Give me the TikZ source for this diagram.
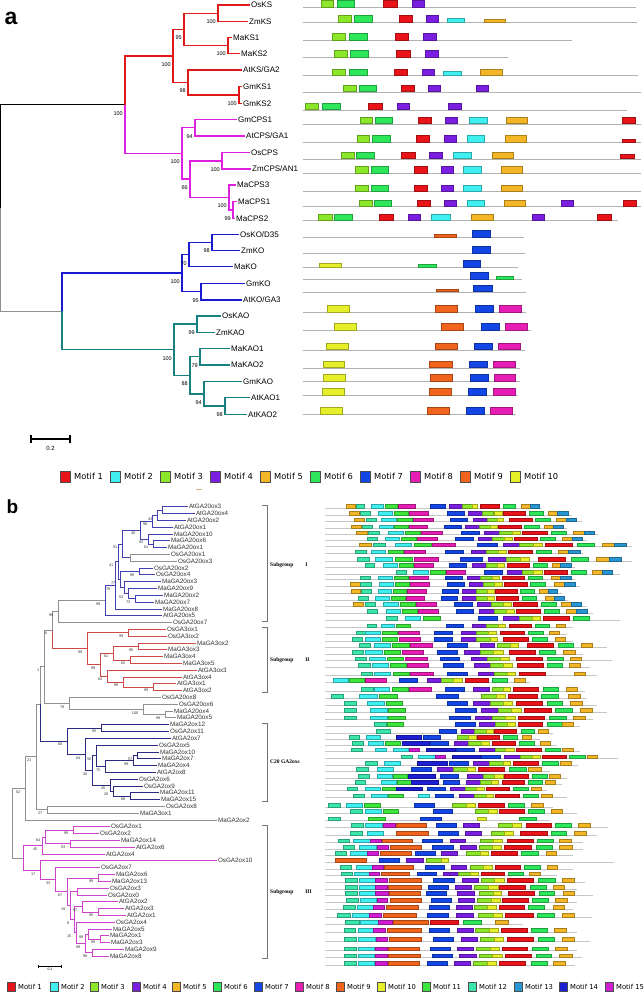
\documentclass[tikz,border=0pt]{standalone}
\usepackage{fontspec}
\setmainfont{Liberation Sans}
\newfontfamily\legfont{DejaVu Sans}
\newfontfamily\grpfont{Liberation Serif}
\usetikzlibrary{positioning,calc}

\definecolor{mot1}{HTML}{E8141A}
\definecolor{mot2}{HTML}{40F0F0}
\definecolor{mot3}{HTML}{8CE62A}
\definecolor{mot4}{HTML}{7A1EE0}
\definecolor{mot5}{HTML}{F2B626}
\definecolor{mot6}{HTML}{2EE65A}
\definecolor{mot7}{HTML}{1446E6}
\definecolor{mot8}{HTML}{E61EB4}
\definecolor{mot9}{HTML}{F0641E}
\definecolor{mot10}{HTML}{E6F02A}
\definecolor{mot11}{HTML}{3CE63C}
\definecolor{mot12}{HTML}{3CE6AA}
\definecolor{mot13}{HTML}{2896D2}
\definecolor{mot14}{HTML}{1E1ED2}
\definecolor{mot15}{HTML}{D21ED2}
\definecolor{ksred}{HTML}{E01818}
\definecolor{cpsmag}{HTML}{E020E0}
\definecolor{koblue}{HTML}{1A1AD0}
\definecolor{kaoteal}{HTML}{178080}
\definecolor{sgone}{HTML}{4040B0}
\definecolor{sgtwo}{HTML}{D04848}
\definecolor{cnavy}{HTML}{2A2A80}
\definecolor{sgthree}{HTML}{CC44CC}
\definecolor{brgrey}{HTML}{909090}

% internal tree node: name, x, first child, last child
\newcommand\inode[4]{\coordinate (#1m) at ($(#3)!.5!(#4)$);\coordinate (#1) at (#1m-|#2,0);}

\tikzset{
  leafa/.style={anchor=west, inner sep=1pt, font=\fontsize{8}{8}\selectfont},
  boota/.style={anchor=east, inner sep=0pt, font=\fontsize{5.5}{5.5}\selectfont},
  leafb/.style={anchor=west, inner sep=0.8pt, text=black!80, font=\fontsize{6.3}{6.3}\selectfont},
  bootb/.style={anchor=east, inner sep=0pt, text=black!80, font=\fontsize{3.8}{3.8}\selectfont},
  tra/.style={line width=1.4pt},
  trb/.style={line width=0.7pt},
  rowa/.style={draw=black!30, line width=0.9pt},
  rowb/.style={draw=black!22, line width=0.6pt},
  motbox/.style={line width=0.3pt},
  brk/.style={draw=black!55, line width=0.6pt},
  sglab/.style={anchor=west, inner sep=0pt, font=\grpfont\bfseries\fontsize{5.5}{5.5}\selectfont},
  leglab/.style={anchor=west, inner sep=0pt, font=\legfont\fontsize{8.3}{8.3}\selectfont},
  leglabb/.style={anchor=west, inner sep=0pt, font=\legfont\fontsize{6.8}{6.8}\selectfont}
}

\begin{document}
\begin{tikzpicture}[x=1pt,y=-1pt]
\useasboundingbox (0,0) rectangle (643,992);
\fill[white] (0,0) rectangle (643,992);

%%% panel a
\node[font=\fontsize{23}{23}\selectfont\bfseries] (pa) at (11,18) {a};

\node[leafa] (OsKS) at (250,5) {OsKS};
\node[leafa] (ZmKS) at (248,21.7) {ZmKS};
\node[leafa] (MaKS1) at (232,37.7) {MaKS1};
\node[leafa] (MaKS2) at (240,53.3) {MaKS2};
\node[leafa] (AtKS) at (242,70) {AtKS/GA2};
\node[leafa] (GmKS1) at (242,86.7) {GmKS1};
\node[leafa] (GmKS2) at (242,103.3) {GmKS2};
\node[leafa] (GmCPS1) at (237,119.3) {GmCPS1};
\node[leafa] (AtCPS) at (245,136) {AtCPS/GA1};
\node[leafa] (OsCPS) at (250,152.7) {OsCPS};
\node[leafa] (ZmCPS) at (251,169) {ZmCPS/AN1};
\node[leafa] (MaCPS3) at (236,185) {MaCPS3};
\node[leafa] (MaCPS1) at (237,201.7) {MaCPS1};
\node[leafa] (MaCPS2) at (235,218.3) {MaCPS2};
\node[leafa] (OsKO) at (239,234.5) {OsKO/D35};
\node[leafa] (ZmKO) at (240,250.7) {ZmKO};
\node[leafa] (MaKO) at (233,266.7) {MaKO};
\node[leafa] (GmKO) at (245,283.3) {GmKO};
\node[leafa] (AtKO) at (242,300) {AtKO/GA3};
\node[leafa] (OsKAO) at (221,316) {OsKAO};
\node[leafa] (ZmKAO) at (215,332.3) {ZmKAO};
\node[leafa] (MaKAO1) at (230,348.3) {MaKAO1};
\node[leafa] (MaKAO2) at (230,365) {MaKAO2};
\node[leafa] (GmKAO) at (242,381.7) {GmKAO};
\node[leafa] (AtKAO1) at (250,397.7) {AtKAO1};
\node[leafa] (AtKAO2) at (247,414.3) {AtKAO2};

\inode{nA}{218}{OsKS}{ZmKS}
\inode{nB}{228}{MaKS1}{MaKS2}
\inode{nC}{184}{nA}{nB}
\inode{nD}{239}{GmKS1}{GmKS2}
\inode{nE}{188}{AtKS}{nD}
\inode{nF}{173}{nC}{nE}
\inode{nG}{195}{GmCPS1}{AtCPS}
\inode{nH}{222}{OsCPS}{ZmCPS}
\inode{nI}{233}{MaCPS1}{MaCPS2}
\inode{nJ}{229}{MaCPS3}{nI}
\inode{nK}{190}{nH}{nJ}
\inode{nL}{182}{nG}{nK}
\inode{nM}{125}{nF}{nL}
\inode{nN}{212}{OsKO}{ZmKO}
\inode{nO}{189}{nN}{MaKO}
\inode{nP}{201}{GmKO}{AtKO}
\inode{nQ}{182}{nO}{nP}
\inode{nR}{197}{OsKAO}{ZmKAO}
\inode{nS}{200}{MaKAO1}{MaKAO2}
\inode{nT}{225}{AtKAO1}{AtKAO2}
\inode{nU}{204}{GmKAO}{nT}
\inode{nV}{190}{nS}{nU}
\inode{nW}{174}{nR}{nV}
\inode{nX}{62}{nQ}{nW}
\inode{nRoot}{0.7}{nM}{nX}

\draw[tra] (nRoot) |- (nM);
\draw[tra, brgrey] (nRoot) |- (nX);
\foreach \p/\c in {nM/nF, nF/nC, nF/nE, nC/nA, nC/nB, nA/OsKS.west, nA/ZmKS.west, nB/MaKS1.west, nB/MaKS2.west, nE/AtKS.west, nE/nD, nD/GmKS1.west, nD/GmKS2.west}
  \draw[tra, ksred] (\p) |- (\c);
\foreach \p/\c in {nM/nL, nL/nG, nL/nK, nG/GmCPS1.west, nG/AtCPS.west, nK/nH, nK/nJ, nH/OsCPS.west, nH/ZmCPS.west, nJ/MaCPS3.west, nJ/nI, nI/MaCPS1.west, nI/MaCPS2.west}
  \draw[tra, cpsmag] (\p) |- (\c);
\foreach \p/\c in {nX/nQ, nQ/nO, nQ/nP, nO/nN, nO/MaKO.west, nN/OsKO.west, nN/ZmKO.west, nP/GmKO.west, nP/AtKO.west}
  \draw[tra, koblue] (\p) |- (\c);
\foreach \p/\c in {nX/nW, nW/nR, nW/nV, nR/OsKAO.west, nR/ZmKAO.west, nV/nS, nV/nU, nS/MaKAO1.west, nS/MaKAO2.west, nU/GmKAO.west, nU/nT, nT/AtKAO1.west, nT/AtKAO2.west}
  \draw[tra, kaoteal] (\p) |- (\c);

\foreach \n/\v in {nA/100, nB/100, nC/95, nD/100, nE/98, nF/100, nG/94, nH/100, nI/99, nJ/100, nK/66, nL/100, nM/100, nN/98, nO/70, nP/95, nQ/100, nR/99, nS/79, nT/98, nU/94, nV/88, nW/100}
  \node[boota] (bs\n) at ([shift={(-2,8.5)}]\n) {\v};

\draw[line width=1.6pt] (31,439) -- (70,439);
\draw[line width=1.6pt] (31,435) -- (31,443) (70,435) -- (70,443);
\node[font=\fontsize{6}{6}\selectfont, inner sep=0pt] (scalea) at (50.5,448) {0.2};

\begin{scope}[shift={(300,0)}, x=0.3333pt]
\foreach \yy/\ee/\bx in {
 7.3/1008/{3/62/100/7,6/112/163/7,1/250/290/7,4/336/373/7},
 22.3/1010/{3/115/152/7,6/163/215/7,1/296/335/7,4/378/415/7,2/442/493/4,5/551/615/3.5},
 40.3/815/{3/96/134/7,6/147/200/7,1/284/325/7,4/370/408/7},
 57.3/625/{3/102/140/7,6/150/205/7,1/288/330/7,4/375/413/7},
 75.7/1015/{3/96/134/7,6/147/200/7,1/282/322/7,4/366/403/7,2/430/482/5,5/540/605/7},
 92/1022/{3/130/167/7,6/177/227/7,1/304/342/7,4/383/420/7,4/527/563/7},
 110/980/{3/16/55/7,6/66/120/7,1/204/246/7,4/291/328/7,4/444/482/7},
 124/1022/{3/180/216/7,6/224/275/7,1/354/393/7,4/434/470/7,2/508/560/7,5/618/680/7,1/966/1005/7},
 142.3/1022/{3/170/208/7,6/216/269/7,1/348/388/7,4/431/468/7,2/500/553/7,5/614/679/7,1/967/1007/3},
 159/1022/{3/124/161/7,6/169/222/7,1/304/345/7,4/388/427/7,2/459/512/7,5/575/640/7,1/962/1002/5},
 173.3/1022/{3/166/203/7,6/212/263/7,1/343/381/7,4/423/460/7,2/490/542/7,5/603/665/7},
 191.7/1022/{3/166/203/7,6/212/263/7,1/343/381/7,4/423/460/7,2/490/542/7,5/603/665/7},
 206.7/1022/{3/177/215/7,6/222/273/7,1/351/390/7,4/432/469/7,2/501/552/7,5/612/674/7,4/784/820/7,1/969/1008/7},
 220.7/955/{3/55/95/7,6/102/155/7,1/237/278/7,4/323/360/7,2/394/449/7,5/513/580/7,4/695/734/7,1/893/933/7},
 237.5/672/{9/403/468/3,7/517/570/7},
 253.3/675/{7/517/571/7},
 267.3/655/{10/58/124/4,6/355/408/3,7/489/541/7},
 279.3/665/{7/510/565/7,6/587/640/3},
 292/677/{9/407/473/3,7/520/575/7},
 312.3/677/{10/82/148/7,9/406/472/7,7/525/578/7,8/597/663/7},
 330.3/692/{10/103/169/7,9/424/490/7,7/543/597/7,8/616/681/7},
 350/675/{10/79/145/7,9/404/470/7,7/523/577/7,8/595/661/7},
 368/660/{10/69/133/7,9/388/455/7,7/508/560/7,8/579/645/7},
 381.3/660/{10/70/136/7,9/390/457/7,7/509/563/7,8/581/645/7},
 395.3/653/{10/66/131/7,9/387/452/7,7/505/559/7,8/578/644/7},
 414.3/648/{10/61/127/7,9/381/447/7,7/499/552/7,8/571/637/7}} {
  \draw[rowa] (8,\yy) -- (\ee,\yy);
  \foreach \mc/\xa/\xb/\hh in \bx
    \filldraw[motbox, fill=mot\mc, draw=mot\mc!70!black] (\xa,\yy-\hh) rectangle (\xb,\yy-0.4);
}
\end{scope}

\foreach \k [count=\j from 0] in {1,...,10} {
  \filldraw[motbox, fill=mot\k, draw=black!70] ({60+50*\j},471) rectangle ({70+50*\j},482);
  \node[leglab] (lega\k) at ({74+50*\j},476.5) {Motif \k};
}
\draw[draw=brown!60, line width=0.6pt] (196,489) -- (202,489);

%%% panel b
\node[font=\fontsize{19}{19}\selectfont\bfseries] (pb) at (12.5,506.7) {b};

\foreach \nm/\xx [count=\i] in {AtGA20ox3/188, AtGA20ox4/195, AtGA20ox2/186, AtGA20ox1/173, MaGA20ox10/173, MaGA20ox6/170, MaGA20ox1/167, OsGA20ox1/170, OsGA20ox3/177, OsGA20ox2/153, OsGA20ox4/155, MaGA20ox3/161, MaGA20ox9/157, MaGA20ox2/163, MaGA20ox7/154, MaGA20ox8/162, AtGA20ox5/162, OsGA20ox7/172, OsGA3ox1/166, OsGA3ox2/167, MaGA3ox2/196, MaGA3ox3/167, MaGA3ox4/163, MaGA3ox5/182, AtGA3ox3/197, AtGA3ox4/182, AtGA3ox1/176, AtGA3ox2/182, OsGA20ox8/161, OsGA20ox6/178, MaGA20ox4/173, MaGA20ox5/176, MaGA2ox12/169, OsGA2ox11/169, AtGA2ox7/171, OsGA2ox5/158, MaGA2ox10/159, MaGA2ox7/161, MaGA2ox4/157, AtGA2ox8/156, OsGA2ox6/138, OsGA2ox9/143, MaGA2ox11/159, MaGA2ox15/160, OsGA2ox8/165, MaGA3ox1/139, MaGA2ox2/217, OsGA2ox1/110, OsGA2ox2/99, MaGA2ox14/120, AtGA2ox6/135, AtGA2ox4/105, OsGA2ox10/217, OsGA2ox7/100, MaGA2ox6/115, MaGA2ox13/111, OsGA2ox3/109, OsGA2ox0/107, AtGA2ox2/118, AtGA2ox3/124, AtGA2ox1/126, OsGA2ox4/115, MaGA2ox5/112, MaGA2ox1/109, MaGA2ox3/110, MaGA2ox9/124, MaGA2ox8/109} {
  \node[leafb] (L\i) at (\xx,{506.7+6.81*(\i-1)}) {\nm};
  \coordinate (l\i) at (L\i.west);
}

\inode{b1}{162}{l1}{l2}
\inode{b2}{157}{b1}{l3}
\inode{b3}{152}{b2}{l4}
\inode{b4}{153}{l6}{l7}
\inode{b5}{148}{l5}{b4}
\inode{b6}{140}{b3}{b5}
\inode{b7}{130}{l8}{l9}
\inode{b8}{122}{b6}{b7}
\inode{b9}{139}{l10}{l11}
\inode{b11}{135}{l14}{l15}
\inode{b12}{128}{l13}{b11}
\inode{b13}{124}{l12}{b12}
\inode{b14}{120}{b9}{b13}
\inode{b15}{118}{b8}{b14}
\inode{b16}{115}{b15}{l16}
\inode{b17}{105}{b16}{l17}
\inode{b18}{58}{b17}{l18}
\inode{r1}{128}{l19}{l20}
\inode{r2}{138}{l21}{l22}
\inode{r3}{130}{l23}{l24}
\inode{r4}{113}{r2}{r3}
\inode{r5}{153}{l27}{l28}
\inode{r6}{123}{l26}{r5}
\inode{r7}{107}{l25}{r6}
\inode{r8}{100}{r4}{r7}
\inode{r9}{87}{r1}{r8}
\inode{k1}{52}{b18}{r9}
\inode{g1}{165}{l31}{l32}
\inode{g2}{143}{l30}{g1}
\inode{g3}{69}{l29}{g2}
\inode{k2}{44}{k1}{g3}
\inode{c1}{101}{l33}{l34}
\inode{c2}{137}{l37}{l38}
\inode{c3}{133}{c2}{l39}
\inode{c4}{105}{c3}{l40}
\inode{c5}{96}{l36}{c4}
\inode{c6}{130}{l43}{l44}
\inode{c7}{113}{l42}{c6}
\inode{c8}{110}{l41}{c7}
\inode{c9}{92}{c5}{c8}
\inode{c10}{85}{l35}{c9}
\inode{c11}{67}{c1}{c10}
\inode{k3}{40}{k2}{c11}
\inode{e1}{47}{l45}{l46}
\inode{k4}{36}{k3}{e1}
\inode{k5}{25}{k4}{l47}
\inode{m1}{73}{l48}{l49}
\inode{m2}{70}{l50}{l51}
\inode{m3}{45}{m1}{m2}
\inode{m4}{42}{m3}{l52}
\inode{n1}{98}{l55}{l56}
\inode{n2}{77}{l57}{l58}
\inode{n4}{98}{l60}{l61}
\inode{n5}{82}{l59}{n4}
\inode{n7}{100}{l64}{l65}
\inode{n8}{88}{l63}{n7}
\inode{n9}{92}{l66}{l67}
\inode{n10}{85}{n8}{n9}
\inode{q3}{76}{l62}{n10}
\inode{q2}{74}{n5}{q3}
\inode{q1}{70}{n2}{q2}
\inode{n12}{67}{n1}{q1}
\inode{n13}{55}{l54}{n12}
\inode{m5}{40}{l53}{n13}
\inode{m6}{23}{m4}{m5}
\inode{rootb}{12}{k5}{m6}

\foreach \p/\c in {b1/l1, b1/l2, b2/b1, b2/l3, b3/b2, b3/l4, b4/l6, b4/l7, b5/l5, b5/b4, b6/b3, b6/b5, b8/b6, b8/b7, b9/l10, b9/l11, b11/l14, b11/l15, b12/l13, b12/b11, b13/l12, b13/b12, b14/b9, b14/b13, b15/b8, b15/b14, b16/b15, b16/l16, b17/b16, b17/l17}
  \draw[trb, sgone] (\p) |- (\c);
\foreach \p/\c in {b7/l8, b7/l9, b18/b17, b18/l18, k1/b18, k2/k1, k2/g3, g3/l29, g3/g2, g2/l30, g2/g1, g1/l31, g1/l32, k3/k2, k4/k3, k4/e1, e1/l45, e1/l46, k5/k4, k5/l47, rootb/k5, rootb/m6}
  \draw[trb, brgrey] (\p) |- (\c);
\foreach \p/\c in {k1/r9, r9/r1, r9/r8, r1/l19, r1/l20, r8/r4, r8/r7, r4/r2, r4/r3, r2/l21, r2/l22, r3/l23, r3/l24, r7/l25, r7/r6, r6/l26, r6/r5, r5/l27, r5/l28}
  \draw[trb, sgtwo] (\p) |- (\c);
\foreach \p/\c in {k3/c11, c11/c1, c11/c10, c1/l33, c1/l34, c10/l35, c10/c9, c9/c5, c9/c8, c5/l36, c5/c4, c4/c3, c4/l40, c3/c2, c3/l39, c2/l37, c2/l38, c8/l41, c8/c7, c7/l42, c7/c6, c6/l43, c6/l44}
  \draw[trb, cnavy] (\p) |- (\c);
\foreach \p/\c in {m6/m4, m6/m5, m4/m3, m4/l52, m3/m1, m3/m2, m1/l48, m1/l49, m2/l50, m2/l51, m5/l53, m5/n13, n13/l54, n13/n12, n12/n1, n12/q1, n1/l55, n1/l56, q1/n2, q1/q2, n2/l57, n2/l58, q2/n5, q2/q3, n5/l59, n5/n4, n4/l60, n4/l61, q3/l62, q3/n10, n10/n8, n10/n9, n8/l63, n8/n7, n7/l64, n7/l65, n9/l66, n9/l67}
  \draw[trb, sgthree] (\p) |- (\c);

\foreach \n/\v in {b2/43, b3/98, b4/61, b5/92, b6/40, b8/51, b9/99, b11/73, b12/53, b14/77, b15/41, b16/78, b17/99, b18/99, r1/99, r2/95, r3/62, r4/61, r5/99, r6/99, r7/64, r8/99, r9/99, k1/6, g1/99, g2/100, g3/78, k2/1, c1/95, c2/57, c3/99, c4/75, c5/56, c6/88, c7/28, c8/45, c9/40, c10/64, c11/60, e1/27, k4/21, k5/52, m1/99, m2/53, m3/64, m4/45, n1/99, n4/95, n5/57, n7/99, n8/99, n9/98, n10/99, q3/15, q2/8, q1/19, n12/67, n13/33, m5/17}
  \node[bootb] (bs\n) at ([shift={(-4.5,3.5)}]\n) {\v};

\draw[line width=0.6pt] (38.3,966) -- (61.7,966);
\draw[line width=0.6pt] (38.3,964.5) -- (38.3,967.5) (61.7,964.5) -- (61.7,967.5);
\node[font=\fontsize{3.5}{3.5}\selectfont, inner sep=0pt] (scaleb) at (50,969.5) {0.1};

\draw[brk] (262,505) -- (267,505) -- (267,621.7) -- (262,621.7);
\draw[brk] (262,627.7) -- (267,627.7) -- (267,692.3) -- (262,692.3);
\draw[brk] (262,723.3) -- (267,723.3) -- (267,801.7) -- (262,801.7);
\draw[brk] (262,825) -- (267,825) -- (267,958.3) -- (262,958.3);
\node[sglab] (sgI) at (270,565) {Subgroup\hspace{12pt}I};
\node[sglab] (sgII) at (270,660.3) {Subgroup\hspace{12pt}II};
\node[sglab] (sgC) at (270,762) {C20 GA2oxs};
\node[sglab] (sgIII) at (270,891.7) {Subgroup\hspace{12pt}III};

\begin{scope}[shift={(310,0)}, x=0.3333pt]
\foreach \ty/\ee/\bx in {
 504.3/695/{5/108/134,12/138/163,2/183/220,11/225/260,8/263/314,7/360/405,4/418/455,3/455/485,10/485/502,1/510/568,6/578/614,5/634/660,13/660/686},
 511.3/785/{5/117/147,12/150/180,2/204/245,11/252/293,8/297/353,7/410/462,4/475/517,3/517/550,10/553/575,1/580/646,6/656/700,5/714/742,13/742/774},
 517.7/815/{5/133/163,12/168/199,2/213/258,11/262/306,8/310/368,7/420/472,4/488/530,3/530/560,10/560/580,1/598/665,6/676/720,5/740/768,13/768/800},
 524.7/770/{5/123/153,12/157/185,2/208/248,11/252/293,8/297/351,7/401/452,4/465/506,3/506/540,10/540/560,1/565/632,6/642/686,5/703/730,13/730/760},
 530.7/865/{5/137/170,12/173/208,2/233/278,11/284/330,8/333/396,7/453/508,4/523/568,3/568/605,10/605/630,1/637/711,6/723/768,5/790/822,13/822/853},
 536.7/830/{12/172/200,2/225/268,11/274/318,8/321/380,7/435/488,4/503/547,3/547/582,10/582/605,1/612/680,6/690/737,5/757/786,13/786/818},
 542.7/965/{5/147/183,12/188/226,2/255/302,11/312/362,8/367/436,7/500/560,4/578/627,3/627/670,10/670/697,1/706/787,6/802/853,5/877/912,13/912/948},
 549.7/820/{12/136/167,2/183/226,11/233/278,8/283/345,7/406/460,4/483/527,3/527/563,10/563/587,1/594/666,6/678/724,5/745/775,13/775/810},
 557.3/965/{12/140/177,2/195/247,11/256/306,8/311/385,7/451/516,4/535/587,3/587/630,10/630/658,1/683/767,6/783/835,5/860/898,13/898/935},
 563.3/795/{12/166/193,2/219/260,11/267/310,8/313/368,7/418/469,4/485/527,3/527/560,10/560/583,1/590/656,6/668/710,5/725/752,13/752/784},
 570/930/{12/258/288,2/310/354,11/360/404,8/408/466,7/523/577,4/591/636,3/636/670,10/670/695,1/701/772,6/784/828,5/846/878,13/878/907},
 575.7/795/{12/150/180,2/204/245,11/251/293,8/297/353,7/404/455,4/470/511,3/511/545,10/545/568,1/575/642,6/654/697,5/724/752,13/752/784},
 582/810/{5/120/150,12/150/182,2/207/248,11/254/296,8/300/357,7/412/463,4/476/518,3/518/552,10/552/575,1/583/650,6/661/706,5/733/762,13/762/795},
 589.3/755/{5/123/150,12/153/183,2/205/242,11/248/288,8/292/347,7/395/444,4/457/497,3/497/530,10/530/552,1/556/620,6/630/672,5/688/714,13/714/742},
 596.3/775/{12/145/173,2/196/236,11/244/284,8/289/343,7/393/442,4/456/497,3/497/530,10/530/552,1/558/623,6/636/677,5/705/733,13/733/764},
 602/830/{5/130/160,12/164/195,2/220/264,11/271/315,8/319/378,7/432/485,4/500/543,3/543/578,10/578/602,1/609/680,6/693/739,5/755/785,13/785/815},
 609.3/850/{12/170/201,2/228/271,11/276/320,8/325/385,7/437/490,4/507/552,3/552/588,10/588/611,1/618/690,6/702/747,5/768/800,13/800/833},
 616.3/930/{12/228/260,2/285/331,11/340/389,7/503/561,4/580/626,3/626/665,10/665/690,1/700/777,6/791/839},
 623.7/790/{12/170/199,2/212/251,11/258/299,7/409/460,4/486/527,3/527/563,10/563/585,1/596/663,6/676/718,5/738/767},
 630.7/770/{12/137/165,2/166/210,11/216/260,8/265/326,7/372/427,4/454/498,3/498/533,10/533/558,1/570/641,6/655/700,5/718/748},
 637.3/790/{12/125/157,2/166/209,11/216/260,8/266/329,7/372/427,4/454/497,3/497/540,10/540/560,1/580/654,6/667/712,5/735/767},
 643.3/890/{12/148/181,2/193/240,11/247/296,8/300/366,7/410/470,4/511/553,3/560/600,10/600/625,1/651/731,6/745/791,5/814/847},
 650/820/{12/127/160,2/166/215,11/222/270,8/275/338,7/382/440,4/461/510,3/510/548,10/548/578,1/597/674,6/688/737,5/760/795},
 656.7/905/{12/135/167,2/176/224,11/230/279,8/284/350,7/391/448,4/482/530,3/530/570,10/570/597,1/617/696,6/712/760,5/782/815},
 663.3/840/{12/144/180,2/185/233,11/239/288,8/291/355,7/399/460,4/492/540,3/540/580,10/580/606,1/622/698,6/711/758,5/778/810},
 671.7/860/{12/152/186,2/192/240,11/248/296,8/300/368,7/410/470,4/505/551,3/551/590,10/590/616,1/626/704,5/792/826},
 678.3/660/{2/70/114,11/118/163,8/166/228,7/268/320,4/350/393,3/393/430,10/430/455,1/464/534,6/547/590,5/613/646},
 687.3/825/{12/152/188,2/193/237,11/246/294,8/298/364,7/405/463,4/488/537,3/545/578,10/578/600,1/608/685,6/698/746,5/768/802},
 694/830/{12/63/100,2/148/200,11/207/260,7/378/443,3/513/558,10/558/585,1/593/680,6/693/746,5/775/812},
 701.3/860/{12/102/138,2/172/222,11/227/276,7/411/472,4/490/540,3/540/580,10/580/605,1/618/696,6/710/758,5/780/816},
 708.3/890/{12/102/137,2/181/231,11/235/285,7/435/497,4/512/563,3/563/603,10/603/632,1/642/722,6/736/786,5/812/847},
 715.7/850/{12/102/137,2/181/230,11/235/285,7/418/480,4/496/546,3/546/586,10/586/614,1/624/702,6/718/768,5/790/826},
 722/810/{12/193/228,11/230/278,7/436/494,4/508/554,3/554/592,10/592/616,1/623/697,6/710/757,5/757/790},
 729/730/{12/198/240,7/388/438,4/452/492,3/492/527,10/527/548,1/553/619,6/634/672,5/685/713},
 735/690/{12/117/146,2/168/209,14/258/333,7/338/390,3/441/474,10/474/497,1/502/568,6/578/620,5/636/664},
 741/740/{12/127/158,2/175/218,11/225/270,14/275/357,7/359/414,4/431/474,3/474/512,10/512/537,1/545/614,6/627/672,5/690/720},
 747.7/810/{12/123/155,2/195/228,2/248/294,15/297/327,14/349/434,7/438/493,4/508/555,3/555/586,10/586/613,1/619/692,6/705/751,5/757/790},
 754.7/925/{12/273/305,2/324/375,15/375/404,14/427/511,7/514/570,4/583/630,3/630/665,10/665/690,1/696/768,6/779/826,5/832/863},
 761/805/{12/166/201,2/222/270,14/322/412,7/416/474,4/489/537,3/537/578,10/578/600,1/608/684,6/695/745,5/752/785},
 767.3/720/{12/138/173,2/200/250,7/302/362,4/380/428,3/428/470,10/470/495,1/503/583,6/597/647,5/654/692},
 774/770/{12/145/177,2/200/245,11/250/292,14/294/376,7/390/445,4/472/518,3/518/552,10/552/578,1/582/655,6/665/710,5/717/750},
 780.3/755/{12/135/165,2/213/258,11/262/302,14/303/385,7/398/448,4/468/510,3/510/542,10/542/565,1/575/643,6/653/696,5/706/737},
 786.7/710/{12/110/140,2/165/210,11/215/257,14/257/335,7/352/406,4/420/465,3/465/497,10/497/522,1/528/598,6/610/654,5/662/693},
 793.7/770/{12/128/162,2/183/230,11/235/280,2/324/357,7/375/430,4/446/492,3/492/527,10/527/550,1/556/628,6/640/685,5/694/725},
 803.3/730/{12/55/90,2/108/156,11/162/210,7/313/372,3/427/467,10/467/494,1/505/581,6/595/642,5/664/700},
 809.3/800/{12/120/155,2/166/213,11/220/265,7/370/426,3/496/535,10/535/560,1/568/642,6/655/702,5/723/756},
 816.7/720/{12/55/90,11/175/225,7/330/392,10/502/528,6/627/678},
 823.3/895/{12/123/158,2/166/216,15/220/254,9/258/348,7/379/437,4/460/506,3/565/605,10/605/632,1/648/723,6/736/783,5/806/840},
 831/860/{12/120/156,2/171/218,9/258/353,7/384/443,4/466/514,3/543/582,10/582/610,1/630/710,6/722/770,5/792/828},
 838.7/820/{12/83/118,2/130/180,15/180/212,9/216/307,7/337/396,4/420/466,3/510/550,10/550/575,1/592/670,6/681/730,5/749/784},
 845/820/{12/98/133,2/148/197,15/200/234,9/240/334,7/366/428,4/450/499,3/506/547,10/547/574,1/583/662,6/678/727,5/749/786},
 851/790/{12/74/108,2/120/170,15/170/204,9/210/302,7/315/375,4/394/441,3/468/510,10/510/535,1/544/620,6/634/683,5/707/740},
 858.3/912/{9/75/168,7/207/268,4/288/338,3/348/392,10/392/414},
 865/790/{12/90/122,2/138/185,15/185/218,9/222/310,7/345/401,4/422/468,3/481/520,10/520/545,1/556/631,6/642/689,5/711/743},
 871.7/740/{12/93/126,2/132/177,15/177/208,9/212/298,7/322/377,4/398/443,3/443/480,10/480/504,1/512/582,6/594/638,5/658/690},
 878.3/825/{12/104/140,2/148/195,15/195/232,9/237/334,7/370/432,4/456/504,3/512/552,10/552/582,1/590/670,6/685/735,5/757/793},
 885.3/800/{12/104/140,2/146/195,15/195/232,9/235/333,7/353/413,4/436/484,3/493/535,10/535/564,1/568/646,6/661/708,5/728/764},
 891.3/850/{12/104/140,2/146/195,15/195/233,9/237/331,7/348/408,4/442/491,3/508/548,10/548/573,1/594/672,6/688/734,5/759/794},
 898/800/{12/108/143,2/150/197,15/200/232,9/240/333,7/363/423,4/445/492,3/500/542,10/542/570,1/577/653,6/665/713,5/736/771},
 905.3/790/{12/100/135,2/140/188,15/190/222,9/228/323,7/356/416,4/438/486,3/493/531,10/531/558,1/566/643,6/655/703,5/730/764},
 913.3/845/{12/82/120,2/126/176,15/178/214,9/218/318,7/351/413,4/438/488,3/505/548,10/548/576,1/586/668,6/681/733,5/757/794},
 920.3/640/{12/106/146,2/150/205,15/205/245,9/250/353,1/360/445,6/460/514,5/555/594},
 928.3/800/{12/102/135,2/143/190,15/190/225,9/232/333,7/358/418,4/440/488,3/496/537,10/537/564,1/573/651,6/664/711,5/733/768},
 937.3/840/{12/102/138,2/144/195,15/197/232,9/236/333,7/368/430,4/452/500,3/510/552,10/552/580,1/590/668,6/684/733,5/756/792},
 946.7/800/{12/102/137,2/144/192,15/195/230,9/233/326,7/360/420,4/442/490,3/499/540,10/540/567,1/575/652,6/667/714,5/736/771},
 953.7/815/{12/102/137,2/144/192,15/195/230,9/233/331,7/366/427,4/448/497,3/507/547,10/547/575,1/584/662,6/677/723,5/749/786},
 961/795/{12/102/137,2/144/192,15/195/230,9/233/328,7/350/410,4/432/480,3/490/530,10/530/557,1/566/645,6/663/710,5/730/765}} {
  \draw[rowb] (45,\ty+4) -- (\ee,\ty+4);
  \foreach \mc/\xa/\xb in \bx
    \filldraw[motbox, fill=mot\mc, draw=mot\mc!70!black] (\xa,\ty) rectangle (\xb,\ty+3.8);
}
\end{scope}

\foreach \k/\xx in {1/7, 2/50, 3/90, 4/132, 5/172, 6/213, 7/254, 8/295, 9/336, 10/377, 11/422, 12/468, 13/514, 14/559, 15/605} {
  \filldraw[motbox, fill=mot\k, draw=black!70] (\xx,982) rectangle (\xx+8.5,991);
  \node[leglabb] (legb\k) at (\xx+11,986.7) {Motif \k};
}
\end{tikzpicture}
\end{document}
